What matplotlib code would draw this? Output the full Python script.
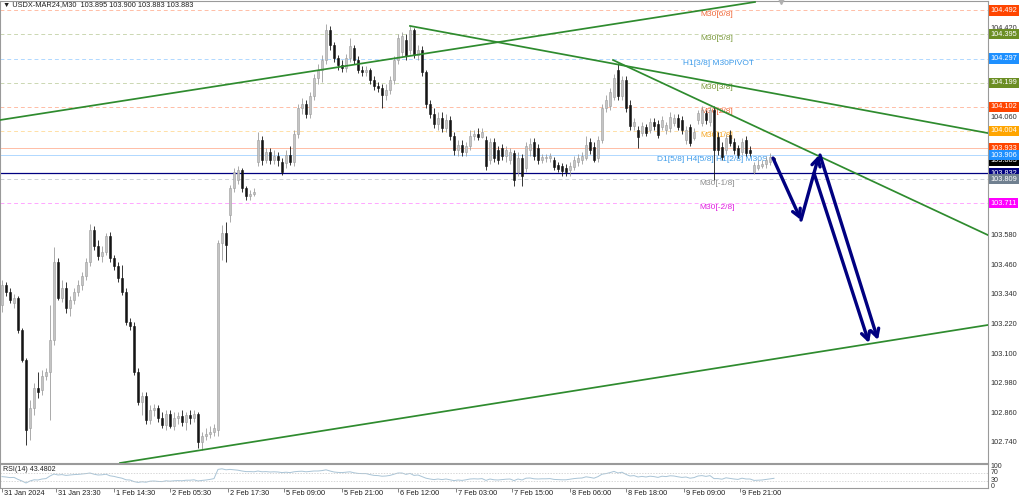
"""USDX-MAR24 M30 candles with Murrey levels, trend lines and RSI(14) pane."""
import matplotlib
matplotlib.use("Agg")
import matplotlib.pyplot as plt
import matplotlib.transforms as mtransforms
import numpy as np

plt.rcParams["font.family"] = ["Liberation Sans", "DejaVu Sans"]

SYMBOL = "USDX-MAR24,M30"
LAST_OHLC = ["103.895", "103.900", "103.883", "103.883"]
RSI_LAST = "43.4802"

opens = [
    103.299, 103.380, 103.351, 103.307, 103.327, 103.198, 103.076, 102.801, 102.882, 102.963,
    102.955, 103.011, 103.028, 103.157, 103.473, 103.327, 103.368, 103.287, 103.319, 103.351,
    103.380, 103.416, 103.473, 103.603, 103.538, 103.497, 103.513, 103.578, 103.489, 103.457,
    103.408, 103.351, 103.230, 103.214, 103.028, 102.906, 102.930, 102.833, 102.874, 102.882,
    102.841, 102.813, 102.857, 102.809, 102.841, 102.849, 102.825, 102.853, 102.841, 102.857,
    102.744, 102.768, 102.776, 102.784, 102.793, 103.550, 103.590, 103.663, 103.773, 103.805,
    103.846, 103.773, 103.740, 103.748, 103.878, 103.967, 103.886, 103.918, 103.886, 103.902,
    103.878, 103.874, 103.906, 103.878, 103.991, 104.097, 104.113, 104.072, 104.145, 104.218,
    104.250, 104.291, 104.413, 104.352, 104.299, 104.271, 104.259, 104.299, 104.340, 104.291,
    104.250, 104.242, 104.250, 104.210, 104.186, 104.178, 104.149, 104.170, 104.210, 104.291,
    104.323, 104.372, 104.332, 104.413, 104.311, 104.332, 104.242, 104.113, 104.072, 104.032,
    104.056, 104.016, 104.048, 103.983, 103.927, 103.947, 103.918, 103.943, 103.983, 103.991,
    103.979, 103.967, 103.886, 103.959, 103.927, 103.935, 103.902, 103.886, 103.914, 103.837,
    103.894, 103.854, 103.927, 103.959, 103.935, 103.886, 103.894, 103.894, 103.886, 103.866,
    103.862, 103.854, 103.846, 103.858, 103.878, 103.886, 103.894, 103.959, 103.939, 103.894,
    103.967, 104.097, 104.105, 104.141, 104.250, 104.145, 104.210, 104.109, 104.024, 104.008,
    103.995, 104.020, 104.008, 104.040, 104.032, 104.020, 104.008, 104.016, 104.036, 104.056,
    104.048, 103.967, 104.020, 103.975, 104.048, 104.036, 104.076, 104.040, 104.089, 103.979,
    103.939, 103.927, 103.987, 103.959, 103.935, 103.918, 103.967, 103.927, 103.837, 103.854,
    103.862, 103.870, 103.878, 103.895,
]
highs = [
    103.400, 103.392, 103.368, 103.343, 103.335, 103.206, 103.084, 102.914, 102.983, 103.028,
    103.036, 103.044, 103.299, 103.534, 103.489, 103.400, 103.392, 103.335, 103.368, 103.400,
    103.432, 103.489, 103.627, 103.619, 103.562, 103.538, 103.590, 103.594, 103.501, 103.473,
    103.461, 103.368, 103.246, 103.230, 103.044, 102.946, 102.946, 102.894, 102.898, 102.894,
    102.865, 102.874, 102.874, 102.865, 102.865, 102.874, 102.865, 102.874, 102.874, 102.865,
    102.784, 102.801, 102.809, 102.817, 103.562, 103.623, 103.635, 103.785, 103.854, 103.862,
    103.854, 103.781, 103.765, 103.773, 103.999, 103.983, 103.935, 103.935, 103.927, 103.918,
    103.894, 103.927, 103.943, 104.008, 104.113, 104.137, 104.129, 104.161, 104.234, 104.275,
    104.311, 104.437, 104.429, 104.364, 104.311, 104.291, 104.315, 104.380, 104.352, 104.307,
    104.267, 104.267, 104.259, 104.226, 104.202, 104.194, 104.194, 104.226, 104.307, 104.396,
    104.404, 104.396, 104.429, 104.421, 104.352, 104.348, 104.250, 104.129, 104.097, 104.080,
    104.080, 104.072, 104.064, 103.999, 103.967, 103.967, 103.959, 104.008, 104.008, 104.016,
    104.016, 103.983, 103.975, 103.975, 103.943, 103.951, 103.943, 103.935, 103.927, 103.918,
    103.910, 103.959, 103.975, 103.975, 103.951, 103.910, 103.910, 103.914, 103.898, 103.878,
    103.874, 103.870, 103.878, 103.902, 103.910, 103.918, 103.983, 103.975, 103.959, 103.983,
    104.113, 104.149, 104.178, 104.234, 104.279, 104.226, 104.226, 104.129, 104.056, 104.024,
    104.040, 104.032, 104.056, 104.056, 104.048, 104.064, 104.040, 104.080, 104.072, 104.072,
    104.064, 104.024, 104.032, 104.016, 104.089, 104.105, 104.089, 104.101, 104.105, 103.999,
    103.959, 103.991, 104.008, 103.975, 103.947, 103.975, 103.983, 103.943, 103.878, 103.886,
    103.886, 103.902, 103.914, 103.900,
]
lows = [
    103.270, 103.335, 103.307, 103.287, 103.185, 103.068, 102.732, 102.752, 102.853, 102.922,
    102.934, 102.995, 102.833, 103.137, 103.319, 103.311, 103.266, 103.254, 103.303, 103.335,
    103.360, 103.400, 103.457, 103.521, 103.481, 103.473, 103.501, 103.473, 103.441, 103.392,
    103.339, 103.218, 103.198, 103.015, 102.894, 102.853, 102.817, 102.817, 102.849, 102.825,
    102.801, 102.793, 102.801, 102.793, 102.817, 102.809, 102.793, 102.817, 102.825, 102.720,
    102.712, 102.752, 102.760, 102.768, 102.768, 103.481, 103.473, 103.635, 103.756, 103.789,
    103.756, 103.724, 103.724, 103.740, 103.862, 103.866, 103.874, 103.870, 103.870, 103.862,
    103.825, 103.854, 103.866, 103.862, 103.975, 104.072, 104.056, 104.056, 104.129, 104.194,
    104.202, 104.275, 104.332, 104.283, 104.250, 104.242, 104.242, 104.283, 104.275, 104.238,
    104.226, 104.226, 104.194, 104.170, 104.161, 104.097, 104.129, 104.153, 104.194, 104.275,
    104.307, 104.291, 104.315, 104.299, 104.291, 104.226, 104.097, 104.056, 104.016, 104.008,
    103.999, 103.999, 103.967, 103.906, 103.902, 103.902, 103.902, 103.927, 103.967, 103.967,
    103.975, 103.846, 103.870, 103.878, 103.870, 103.886, 103.878, 103.870, 103.781, 103.821,
    103.781, 103.837, 103.902, 103.886, 103.870, 103.874, 103.878, 103.878, 103.846, 103.837,
    103.821, 103.821, 103.821, 103.846, 103.862, 103.870, 103.886, 103.910, 103.878, 103.878,
    103.955, 104.080, 104.089, 104.129, 104.129, 104.129, 104.080, 104.008, 104.008, 103.935,
    103.983, 103.983, 103.995, 104.008, 103.975, 104.008, 103.991, 103.999, 104.024, 104.008,
    103.991, 103.951, 103.943, 103.967, 104.032, 104.024, 104.032, 104.024, 103.805, 103.906,
    103.886, 103.910, 103.943, 103.910, 103.894, 103.906, 103.902, 103.902, 103.829, 103.846,
    103.854, 103.854, 103.866, 103.883,
]
closes = [
    103.380, 103.351, 103.319, 103.327, 103.198, 103.076, 102.793, 102.882, 102.963, 102.946,
    103.011, 103.028, 103.157, 103.473, 103.327, 103.368, 103.287, 103.319, 103.351, 103.380,
    103.416, 103.473, 103.603, 103.538, 103.497, 103.513, 103.578, 103.489, 103.457, 103.408,
    103.351, 103.230, 103.214, 103.028, 102.906, 102.930, 102.833, 102.874, 102.882, 102.841,
    102.813, 102.857, 102.809, 102.841, 102.849, 102.825, 102.853, 102.841, 102.857, 102.744,
    102.768, 102.776, 102.784, 102.801, 103.550, 103.590, 103.542, 103.773, 103.837, 103.846,
    103.773, 103.740, 103.748, 103.756, 103.967, 103.886, 103.918, 103.886, 103.902, 103.886,
    103.837, 103.906, 103.878, 103.991, 104.097, 104.113, 104.072, 104.145, 104.218, 104.250,
    104.291, 104.413, 104.352, 104.299, 104.271, 104.259, 104.299, 104.348, 104.291, 104.250,
    104.242, 104.250, 104.210, 104.186, 104.178, 104.149, 104.170, 104.210, 104.291, 104.380,
    104.388, 104.307, 104.413, 104.311, 104.332, 104.242, 104.113, 104.072, 104.032, 104.056,
    104.016, 104.048, 103.983, 103.927, 103.947, 103.918, 103.943, 103.983, 103.991, 103.979,
    103.999, 103.862, 103.959, 103.894, 103.886, 103.902, 103.927, 103.918, 103.805, 103.894,
    103.821, 103.943, 103.951, 103.902, 103.886, 103.898, 103.898, 103.902, 103.858, 103.850,
    103.842, 103.837, 103.862, 103.886, 103.894, 103.902, 103.947, 103.927, 103.886, 103.967,
    104.097, 104.129, 104.161, 104.218, 104.145, 104.210, 104.097, 104.024, 104.040, 103.979,
    104.024, 103.995, 104.040, 104.024, 103.987, 104.048, 104.028, 104.060, 104.056, 104.020,
    104.008, 104.008, 103.955, 103.999, 104.076, 104.089, 104.048, 104.089, 103.927, 103.927,
    103.898, 103.975, 103.955, 103.927, 103.906, 103.959, 103.914, 103.914, 103.866, 103.866,
    103.870, 103.886, 103.898, 103.883,
]
rsi = [
    52, 50, 47, 48, 38, 30, 20, 30, 36, 35,
    40, 42, 55, 65, 60, 62, 58, 60, 62, 63,
    65, 67, 70, 64, 60, 61, 64, 56, 53, 48,
    44, 36, 35, 27, 23, 26, 24, 29, 30, 28,
    27, 31, 29, 31, 32, 31, 34, 34, 36, 30,
    33, 35, 38, 42, 88, 91, 86, 88, 86, 84,
    80, 77, 77, 76, 80, 76, 77, 75, 76, 75,
    72, 74, 72, 76, 78, 79, 76, 78, 80, 80,
    82, 86, 80, 75, 73, 72, 74, 76, 71, 68,
    67, 67, 62, 58, 57, 54, 55, 58, 64, 70,
    70, 63, 68, 58, 60, 52, 44, 40, 37, 40,
    37, 40, 36, 32, 35, 33, 36, 40, 41, 40,
    42, 33, 40, 36, 35, 37, 39, 40, 32, 40,
    35, 44, 45, 41, 40, 41, 41, 42, 38, 37,
    36, 36, 39, 42, 44, 45, 51, 48, 44, 52,
    64, 67, 72, 78, 70, 74, 63, 55, 57, 50,
    53, 50, 54, 52, 48, 54, 52, 56, 55, 51,
    48, 50, 44, 47, 55, 57, 53, 57, 42, 42,
    39, 46, 43, 40, 38, 44, 40, 40, 33, 34,
    35, 38, 41, 43.48,
]

xtick_bars = [0, 13.5, 28, 42, 56.5, 70.5, 85, 99, 113.5, 127.5, 142, 156, 170.5, 184.5]
xtick_labels = ["31 Jan 2024", "31 Jan 23:30", "1 Feb 14:30", "2 Feb 05:30", "2 Feb 17:30",
                "5 Feb 09:00", "5 Feb 21:00", "6 Feb 12:00", "7 Feb 03:00", "7 Feb 15:00",
                "8 Feb 06:00", "8 Feb 18:00", "9 Feb 09:00", "9 Feb 21:00"]
price_ticks = [104.420, 104.060, 103.580, 103.460, 103.340, 103.220, 103.100,
               102.980, 102.860, 102.740]

# Murrey-math style levels: price, colour, line style, label, label start bar
level_prices = [104.492, 104.395, 104.297, 104.199, 104.102, 104.004, 103.933,
                103.906, 103.832, 103.809, 103.711]
level_colors = ["#ff4500", "#6b8e23", "#1e90ff", "#6b8e23", "#ff4500", "#ffa500",
                "#ff4500", "#1e90ff", "#000080", "#708090", "#ff00ff"]
level_styles = ["dash", "dash", "dash", "dash", "dash", "dash", "solid",
                "solid", "solid", "dash", "dash"]
level_names = ["M30[6/8]", "M30[5/8]", "H1[3/8] M30PIVOT", "M30[3/8]", "M30[2/8]",
               "M30[1/8]", "", "D1[5/8] H4[5/8] H1[2/8] M30S", "", "M30[-1/8]", "M30[-2/8]"]
level_name_bar = [174.5, 174.5, 170.25, 174.5, 174.5, 174.5, None, 163.75, None,
                  174.25, 174.25]
text_colors = ["#f06a3c", "#7b9a3c", "#3d9be9", "#7b9a3c", "#f06a3c", "#f5a623",
               None, "#3d9be9", None, "#8c8c8c", "#e020e0"]

BID = 103.883
trend_lines = [((-0.5, 104.048), (188.25, 104.526)),
               ((102.0, 104.429), (246.5, 103.995)),
               ((152.75, 104.291), (246.5, 103.582)),
               ((29.5, 102.659), (246.5, 103.218))]
arrows = [((192.75, 103.894), (199.75, 103.643)),
          ((199.75, 103.643), (204.25, 103.906)),
          ((203.0, 103.833), (216.75, 103.145)),
          ((204.5, 103.906), (219.0, 103.157))]
SHIFT_BAR = 194.75

W, H = 1024, 501
BULL_FILL, BULL_EDGE, BEAR = "#c4c4c4", "#9c9c9c", "#151515"
FRAME = "#9a9a9a"
NAVY = "#000080"
GREEN = "#2e8b2e"


def main():
    fig = plt.figure(figsize=(W / 100, H / 100), dpi=100)
    ax = fig.add_axes([0.0, 1 - 463 / H, 988 / W, 462 / H])
    rax = fig.add_axes([0.0, 1 - 488 / H, 988 / W, 24 / H], sharex=ax)

    ax.set_xlim(-0.5, 246.5)
    ax.set_ylim(102.659, 104.530)
    for a in (ax, rax):
        for s in a.spines.values():
            s.set_color(FRAME)
            s.set_linewidth(0.8)
    ax.set_yticks([])
    ax.tick_params(axis="x", bottom=False, labelbottom=False)

    # horizontal levels
    for p, col, st in zip(level_prices, level_colors, level_styles):
        if st == "dash":
            ax.axhline(p, color=col, lw=0.7, alpha=0.35, ls=(0, (4, 3)), zorder=1)
        elif col == NAVY:
            ax.axhline(p, color=col, lw=0.9, zorder=2)
        else:
            ax.axhline(p, color=col, lw=0.7, alpha=0.35, zorder=1)
    for p, name, b, tc in zip(level_prices, level_names, level_name_bar, text_colors):
        if name:
            ax.annotate(name, (b, p), xytext=(0, -0.8), textcoords="offset points",
                        ha="left", va="top", fontsize=6.0, color=tc, zorder=3)

    # candles
    x = np.arange(len(closes))
    o, h, l, c = (np.array(v) for v in (opens, highs, lows, closes))
    up = c >= o
    ax.vlines(x[up], l[up], h[up], color=BULL_EDGE, lw=0.6, zorder=4)
    ax.vlines(x[~up], l[~up], h[~up], color=BEAR, lw=0.6, zorder=4)
    ax.bar(x[up], (c - o)[up], bottom=o[up], width=0.6, color=BULL_FILL,
           edgecolor=BULL_EDGE, lw=0.4, zorder=5)
    ax.bar(x[~up], (c - o)[~up], bottom=o[~up], width=0.6, color=BEAR,
           edgecolor=BEAR, lw=0.4, zorder=5)

    for (x0, y0), (x1, y1) in trend_lines:
        ax.plot([x0, x1], [y0, y1], color=GREEN, lw=1.25, zorder=6)
    for start, end in arrows:
        ax.annotate("", xy=end, xytext=start, zorder=7,
                    arrowprops=dict(arrowstyle="->,head_length=0.55,head_width=0.3",
                                    color=NAVY, lw=2.4, shrinkA=0, shrinkB=0,
                                    mutation_scale=10))
    ax.plot([SHIFT_BAR], [104.530], marker="v", ms=4, color="#b0b0b0",
            clip_on=False, zorder=8)

    # right price scale
    tr = mtransforms.blended_transform_factory(ax.transAxes, ax.transData)
    lx = 1 + 2.5 / 988
    for p in price_ticks:
        ax.text(lx, p, f"{p:.3f}", transform=tr, ha="left", va="center",
                fontsize=5.3, color="#303030", clip_on=False)
    boxes = [(BID, "#000000")] + list(zip(level_prices, level_colors))
    for p, col in boxes:
        ax.text(lx, p, f"{p:.3f}", transform=tr, ha="left", va="center",
                fontsize=5.3, color="white", clip_on=False,
                bbox=dict(boxstyle="square,pad=0.22", fc=col, ec="none"))

    fig.text(3 / W, 1 - 5 / H,
             f"\u25bc {SYMBOL}  {' '.join(LAST_OHLC)}",
             ha="left", va="center", fontsize=5.3, color="#202020")

    # RSI pane
    rax.set_ylim(-5, 115)
    rax.plot(x, rsi, color="#a9c4d6", lw=0.7)
    for lv in (70, 30):
        rax.axhline(lv, color="#c8c8c8", lw=0.5, ls=(0, (2, 2)))
    rax.set_yticks([])
    rx_tr = mtransforms.blended_transform_factory(rax.transAxes, rax.transData)
    for lv in (100, 70, 30, 0):
        rax.text(lx, lv, str(lv), transform=rx_tr, ha="left", va="center",
                 fontsize=5.0, color="#303030", clip_on=False)
    rax.text(3 / 988, 0.78, f"RSI(14) {RSI_LAST}", transform=rax.transAxes,
             ha="left", va="center", fontsize=5.1, color="#202020")
    rax.set_xticks(xtick_bars)
    rax.tick_params(axis="x", length=3, width=0.6, color="#707070",
                    labelbottom=False)
    for b, lab in zip(xtick_bars, xtick_labels):
        rax.annotate(lab, (b, 0), xycoords=("data", "axes fraction"),
                     xytext=(1.2, -1.5), textcoords="offset points",
                     ha="left", va="top", fontsize=5.3, color="#202020",
                     annotation_clip=False)

    fig.savefig("out.png", dpi=100)


if __name__ == "__main__":
    main()
